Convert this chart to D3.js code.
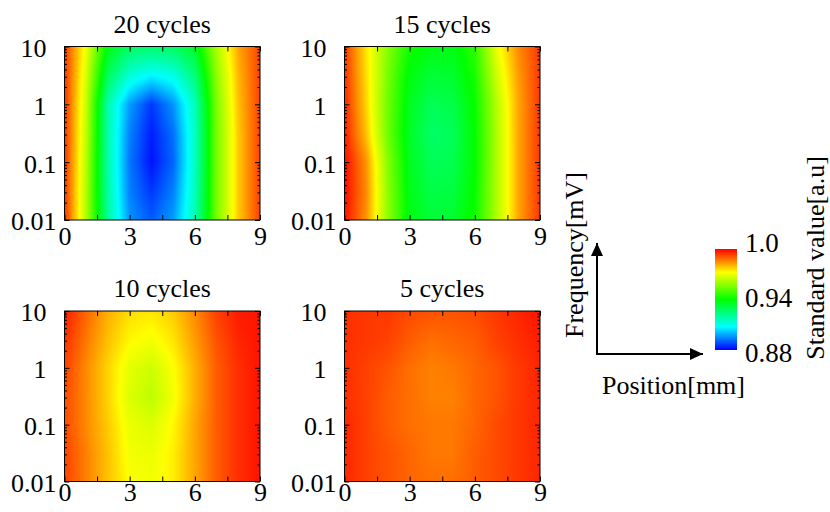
<!DOCTYPE html>
<html>
<head>
<meta charset="utf-8">
<script src="https://cdn.jsdelivr.net/npm/d3@7"></script>
<style>
body { margin: 0; background: #fff; }
svg text { font-family: "Liberation Serif", "Times New Roman", serif; font-size: 26px; fill: #000; }
</style>
</head>
<body>
<div id="chart"></div>
<script>

// grid of the maps: position [mm] x frequency
var positions = [0, 1, 2, 3, 4, 5, 6, 7, 8, 9];
var frequencies = [0.01, 0.03, 0.1, 0.3, 1, 3, 10];

var titles = ["20 cycles", "15 cycles", "10 cycles", "5 cycles"];
var xTickValues = [0, 1.5, 3, 4.5, 6, 7.5, 9];
var xTickLabels = [0, 3, 6, 9];
var yTickLabels = [0.01, 0.1, 1, 10];
var colorbarTicks = [0.88, 0.94, 1.0];
var colorbarLabels = ["0.88", "0.94", "1.0"];

// rows go from 0.01 (bottom) up to 10 (top), one value per position
var cycles20 = [
    [.995, .962, .920, .896, .890, .897, .917, .955, .978, .993],
    [.995, .962, .919, .894, .886, .894, .916, .955, .978, .993],
    [.995, .963, .918, .893, .882, .891, .915, .955, .978, .993],
    [.995, .964, .918, .894, .883, .892, .915, .955, .978, .993],
    [.995, .965, .918, .897, .886, .896, .916, .956, .979, .993],
    [.995, .967, .928, .912, .906, .910, .924, .958, .980, .993],
    [.994, .970, .938, .928, .927, .928, .935, .962, .982, .993]
];
var cycles15 = [
    [.998, .984, .958, .938, .933, .934, .942, .962, .982, .994],
    [.999, .985, .958, .937, .931, .932, .941, .962, .982, .994],
    [.999, .984, .957, .936, .929, .930, .940, .962, .982, .994],
    [.997, .979, .954, .935, .927, .929, .940, .962, .982, .994],
    [.996, .977, .954, .936, .929, .931, .941, .963, .982, .994],
    [.995, .976, .955, .938, .933, .934, .943, .966, .983, .994],
    [.994, .975, .957, .942, .938, .938, .946, .970, .985, .994]
];
var cycles10 = [
    [.993, .986, .979, .972, .971, .974, .982, .990, .995, .998],
    [.993, .986, .979, .971, .970, .974, .982, .990, .995, .998],
    [.992, .985, .978, .970, .968, .973, .982, .990, .995, .998],
    [.992, .985, .977, .968, .964, .971, .981, .990, .995, .998],
    [.993, .985, .977, .969, .966, .972, .981, .990, .995, .998],
    [.995, .987, .979, .973, .971, .975, .983, .991, .996, .998],
    [.997, .989, .981, .976, .975, .978, .985, .993, .997, .998]
];
var cycles5 = [
    [.996, .993, .991, .989, .988, .988, .990, .992, .994, .996],
    [.996, .993, .991, .989, .987, .987, .990, .992, .994, .996],
    [.996, .993, .990, .988, .987, .987, .989, .992, .994, .996],
    [.995, .993, .990, .988, .986, .986, .989, .991, .994, .996],
    [.995, .993, .991, .988, .986, .987, .989, .991, .994, .996],
    [.995, .994, .993, .990, .988, .989, .990, .993, .995, .997],
    [.995, .994, .994, .992, .991, .991, .992, .994, .996, .998]
];
var grids = [cycles20, cycles15, cycles10, cycles5];

var width = 830, height = 512;

var svg = d3.select("#chart").append("svg")
    .attr("width", width)
    .attr("height", height);

// jet like palette
var color = d3.scaleLinear()
    .domain([0.88, 0.9076, 0.94, 0.9724, 1.0])
    .range(["#0000ff", "#00ffff", "#00ff00", "#ffff00", "#ff0000"])
    .clamp(true);

// panel boxes (left, right, top, bottom) and where the x labels go
var panels = [
    { x0: 64.5, x1: 260, y0: 46.5, y1: 220, pad: 7 },
    { x0: 344.5, x1: 540, y0: 46.5, y1: 220, pad: 7 },
    { x0: 64.5, x1: 260, y0: 311, y1: 481.5, pad: 1 },
    { x0: 344.5, x1: 540, y0: 311, y1: 481.5, pad: 1 }
];

var logFreq = frequencies.map(function(f) { return Math.log10(f); });

function sample(grid, xv, lf) {
    var i = Math.max(0, Math.min(positions.length - 2, d3.bisectRight(positions, xv) - 1));
    var j = Math.max(0, Math.min(logFreq.length - 2, d3.bisectRight(logFreq, lf) - 1));
    var tx = Math.max(0, Math.min(1, (xv - positions[i]) / (positions[i + 1] - positions[i])));
    var ty = Math.max(0, Math.min(1, (lf - logFreq[j]) / (logFreq[j + 1] - logFreq[j])));
    var a = grid[j][i] * (1 - tx) + grid[j][i + 1] * tx;
    var b = grid[j + 1][i] * (1 - tx) + grid[j + 1][i + 1] * tx;
    return a * (1 - ty) + b * ty;
}

var minorTicks = [];
[0.01, 0.1, 1].forEach(function(d) {
    for (var k = 2; k <= 9; k++) minorTicks.push(k * d);
});

panels.forEach(function(p, n) {
    var x = d3.scaleLinear().domain([0, 9]).range([p.x0, p.x1]);
    var y = d3.scaleLog().domain([0.01, 10]).range([p.y1, p.y0]);

    // heat map drawn into a canvas, then put in the svg
    var w = Math.round(p.x1 - p.x0), h = Math.round(p.y1 - p.y0);
    var canvas = document.createElement("canvas");
    canvas.width = w; canvas.height = h;
    var ctx = canvas.getContext("2d");
    var img = ctx.createImageData(w, h);
    for (var r = 0; r < h; r++) {
        var lf = Math.log10(y.invert(p.y0 + (r + 0.5) * (p.y1 - p.y0) / h));
        for (var c = 0; c < w; c++) {
            var xv = x.invert(p.x0 + (c + 0.5) * (p.x1 - p.x0) / w);
            var col = d3.rgb(color(sample(grids[n], xv, lf)));
            var k = (r * w + c) * 4;
            img.data[k] = col.r; img.data[k + 1] = col.g; img.data[k + 2] = col.b; img.data[k + 3] = 255;
        }
    }
    ctx.putImageData(img, 0, 0);

    var g = svg.append("g");

    g.append("image")
        .attr("x", p.x0).attr("y", p.y0)
        .attr("width", p.x1 - p.x0).attr("height", p.y1 - p.y0)
        .attr("preserveAspectRatio", "none")
        .attr("href", canvas.toDataURL());

    // axes with inward ticks
    var xAxis = d3.axisBottom(x).tickValues(xTickValues)
        .tickSizeInner(-5).tickSizeOuter(0).tickPadding(p.pad)
        .tickFormat(function(d) { return xTickLabels.indexOf(d) >= 0 ? d : ""; });
    g.append("g").attr("transform", "translate(0," + p.y1 + ")").call(xAxis);

    g.append("g").attr("transform", "translate(0," + p.y0 + ")")
        .call(d3.axisTop(x).tickValues(xTickValues).tickSizeInner(-5).tickSizeOuter(0).tickFormat(""));

    var yAxis = d3.axisLeft(y).tickValues(yTickLabels)
        .tickSizeInner(-5).tickSizeOuter(0).tickPadding(8)
        .tickFormat(function(d) { return String(d); });
    var ya = g.append("g").attr("transform", "translate(" + p.x0 + ",0)").call(yAxis);
    ya.selectAll("text")
        .attr("dy", "0.38em")
        .attr("dx", function(d) { return d >= 1 ? -10 : 0; });

    g.append("g").attr("transform", "translate(" + p.x0 + ",0)")
        .call(d3.axisLeft(y).tickValues(minorTicks).tickSizeInner(-2.5).tickSizeOuter(0).tickFormat(""));
    g.append("g").attr("transform", "translate(" + p.x1 + ",0)")
        .call(d3.axisRight(y).tickValues(yTickLabels).tickSizeInner(-5).tickSizeOuter(0).tickFormat(""));
    g.append("g").attr("transform", "translate(" + p.x1 + ",0)")
        .call(d3.axisRight(y).tickValues(minorTicks).tickSizeInner(-2.5).tickSizeOuter(0).tickFormat(""));

    g.selectAll(".domain").remove();
    g.selectAll(".tick line").attr("stroke", "#000");
    g.selectAll(".tick text")
        .style("font-family", "'Liberation Serif', serif")
        .style("font-size", "26px");

    g.append("rect")
        .attr("x", p.x0).attr("y", p.y0)
        .attr("width", p.x1 - p.x0).attr("height", p.y1 - p.y0)
        .attr("fill", "none").attr("stroke", "#000").attr("stroke-width", 1);

    g.append("text")
        .attr("x", (p.x0 + p.x1) / 2)
        .attr("y", p.y0 - 14)
        .attr("text-anchor", "middle")
        .text(titles[n]);
});

// direction key: arrows
var defs = svg.append("defs");
defs.append("marker")
    .attr("id", "arrow")
    .attr("viewBox", "0 0 13 12")
    .attr("refX", 13).attr("refY", 6)
    .attr("markerUnits", "userSpaceOnUse")
    .attr("markerWidth", 13).attr("markerHeight", 12)
    .attr("orient", "auto")
    .append("path").attr("d", "M0,0L13,6L0,12Z").attr("fill", "#000");

svg.append("line")
    .attr("x1", 597).attr("y1", 354).attr("x2", 597).attr("y2", 243)
    .attr("stroke", "#000").attr("stroke-width", 2)
    .attr("marker-end", "url(#arrow)");
svg.append("line")
    .attr("x1", 596).attr("y1", 354).attr("x2", 703).attr("y2", 354)
    .attr("stroke", "#000").attr("stroke-width", 2)
    .attr("marker-end", "url(#arrow)");

svg.append("text")
    .attr("transform", "translate(583,255) rotate(-90)")
    .attr("text-anchor", "middle")
    .text("Frequency[mV]");
svg.append("text")
    .attr("x", 673.5).attr("y", 394)
    .attr("text-anchor", "middle")
    .text("Position[mm]");

// colour bar
var cbar = d3.scaleLinear().domain([0.88, 1.0]).range([350, 249]);
var cbarLabelPos = d3.scaleLinear().domain([0.88, 1.0]).range([362, 252]);

var grad = defs.append("linearGradient")
    .attr("id", "cbar")
    .attr("x1", 0).attr("y1", 1).attr("x2", 0).attr("y2", 0);
grad.selectAll("stop")
    .data(color.domain())
    .enter().append("stop")
    .attr("offset", function(d) { return (d - 0.88) / 0.12; })
    .attr("stop-color", function(d) { return color(d); });

svg.append("rect")
    .attr("x", 715).attr("y", cbar(1.0))
    .attr("width", 22).attr("height", cbar(0.88) - cbar(1.0))
    .attr("fill", "url(#cbar)");

svg.selectAll(".cbar-label")
    .data(colorbarTicks)
    .enter().append("text")
    .attr("class", "cbar-label")
    .attr("x", 745)
    .attr("y", function(d) { return cbarLabelPos(d); })
    .style("font-size", "27px")
    .text(function(d, i) { return colorbarLabels[i]; });

svg.append("text")
    .attr("transform", "translate(824,258) rotate(-90)")
    .attr("text-anchor", "middle")
    .text("Standard value[a.u]");

</script>
</body>
</html>
